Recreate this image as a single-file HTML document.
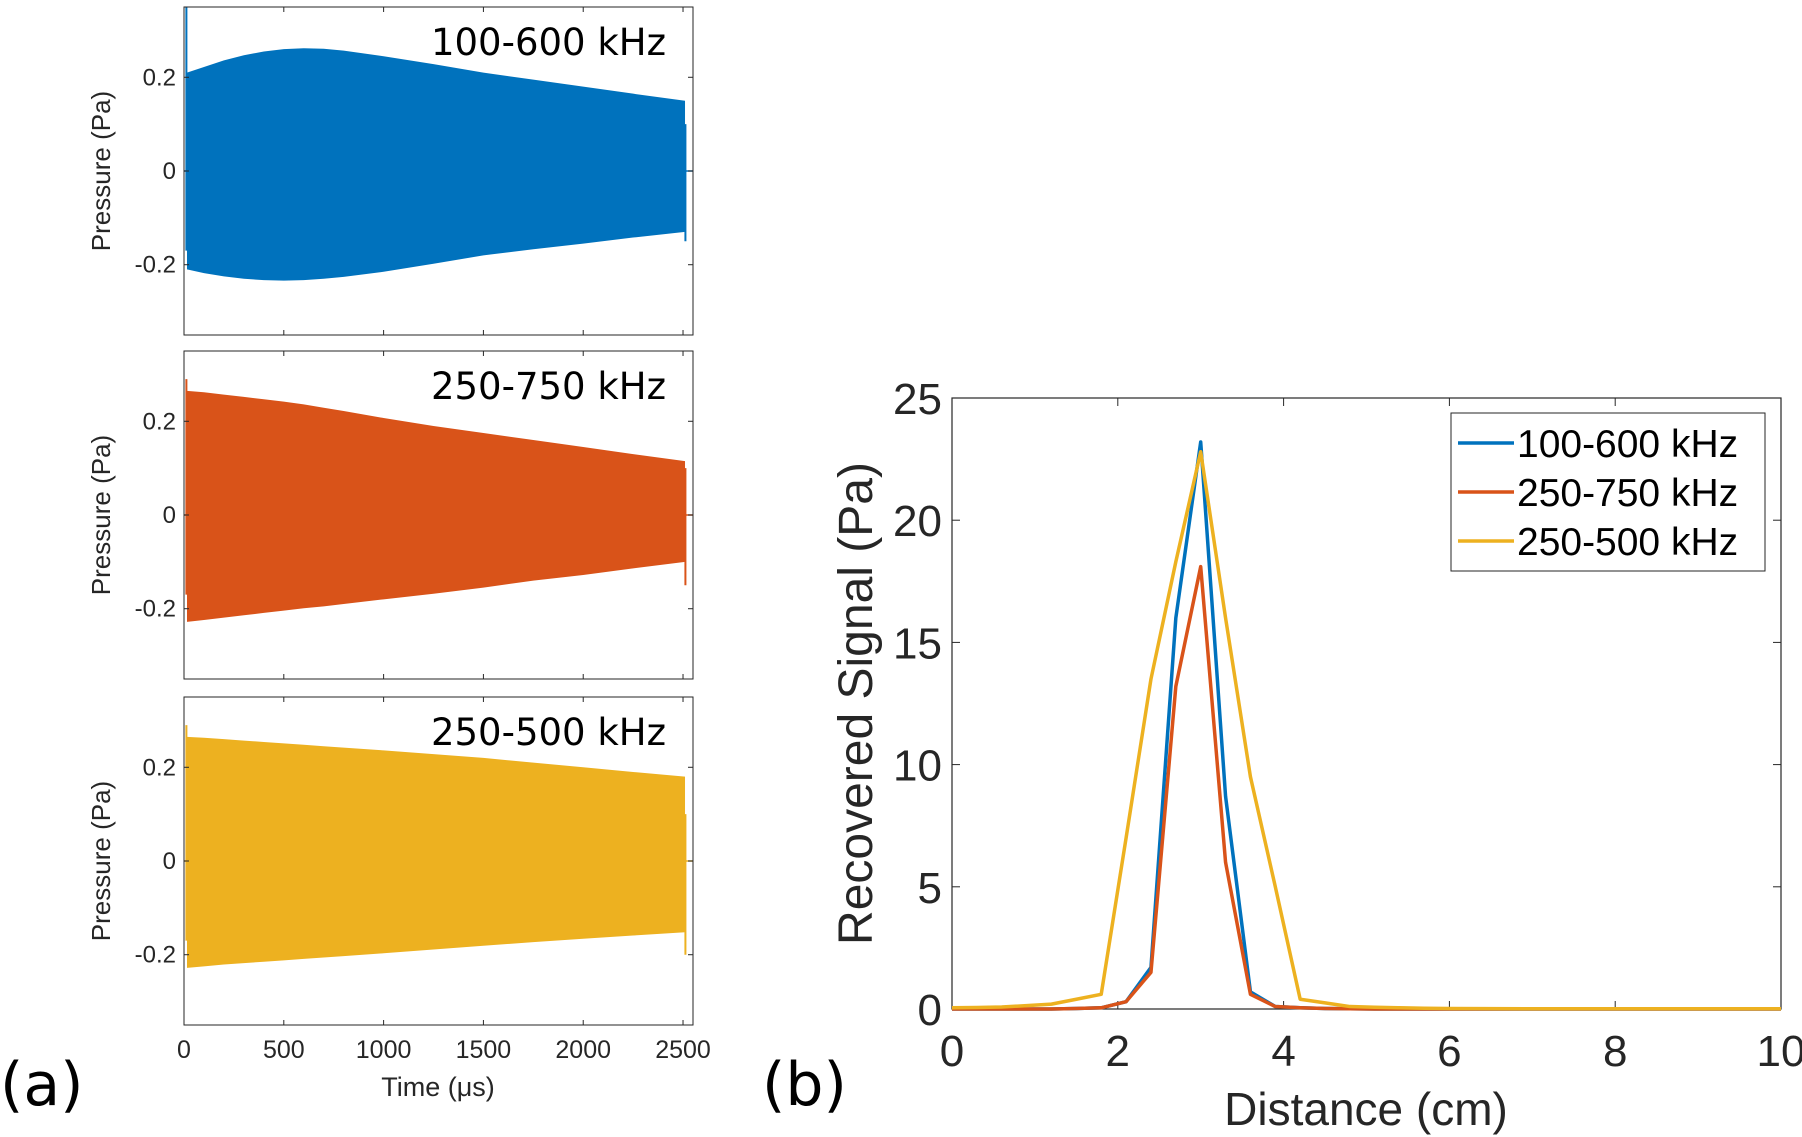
<!DOCTYPE html>
<html><head><meta charset="utf-8"><style>
html,body{margin:0;padding:0;background:#fff;}
svg{display:block;}
</style></head><body>
<svg id="fig" width="1802" height="1137" viewBox="0 0 1802 1137" xmlns="http://www.w3.org/2000/svg">
<g id="left"></g>
<g id="right"></g>
<text x="0" y="1105" font-family="'DejaVu Sans',sans-serif" font-size="60" fill="#000">(a)</text>
<text x="762" y="1105" font-family="'DejaVu Sans',sans-serif" font-size="60" fill="#000">(b)</text>
</svg>
<script>
// ---- Panel (a) data ----
const envTimes = [15, 100, 200, 300, 400, 500, 600, 700, 800, 1000, 1250, 1500, 1750, 2000, 2250, 2510];
const blueUpper = [0.21, 0.222, 0.236, 0.247, 0.255, 0.26, 0.262, 0.261, 0.257, 0.245, 0.228, 0.21, 0.195, 0.18, 0.165, 0.15];
const blueLower = [-0.21, -0.218, -0.225, -0.23, -0.233, -0.234, -0.233, -0.23, -0.226, -0.215, -0.198, -0.18, -0.167, -0.155, -0.142, -0.13];
const orangeUpper = [0.265, 0.262, 0.257, 0.252, 0.247, 0.242, 0.236, 0.229, 0.222, 0.207, 0.19, 0.175, 0.16, 0.145, 0.13, 0.115];
const orangeLower = [-0.228, -0.224, -0.219, -0.214, -0.209, -0.204, -0.199, -0.195, -0.19, -0.18, -0.168, -0.155, -0.14, -0.128, -0.114, -0.1];
const yellowUpper = [0.265, 0.263, 0.26, 0.257, 0.254, 0.251, 0.248, 0.245, 0.242, 0.236, 0.228, 0.22, 0.21, 0.2, 0.19, 0.18];
const yellowLower = [-0.228, -0.225, -0.221, -0.218, -0.215, -0.212, -0.209, -0.206, -0.203, -0.197, -0.189, -0.181, -0.173, -0.166, -0.159, -0.152];
const panelTitles = ["100-600 kHz", "250-750 kHz", "250-500 kHz"];
const timeTicks = [0, 500, 1000, 1500, 2000, 2500];
const pressTicks = [-0.2, 0, 0.2];
const pressTickLabels = ["-0.2", "0", "0.2"];
// ---- Panel (b) data ----
const distances = [0,0.3,0.6,0.9,1.2,1.5,1.8,2.1,2.4,2.7,3.0,3.3,3.6,3.9,4.2,4.5,4.8,5.1,5.4,5.7,6,7,8,9,10];
const sig100600 = [0,0,0,0,0,0.02,0.05,0.3,1.7,16,23.2,8.7,0.7,0.1,0.05,0.02,0.01,0,0,0,0,0,0,0,0];
const sig250750 = [0,0,0,0,0,0.02,0.05,0.3,1.5,13.2,18.1,6,0.6,0.1,0.05,0.02,0.01,0,0,0,0,0,0,0,0];
const sig250500 = [0.05,0.06,0.08,0.14,0.2,0.4,0.6,7,13.5,18.3,22.8,16,9.5,5,0.4,0.25,0.1,0.07,0.05,0.03,0.02,0.01,0.01,0.01,0.01];
const distTicks = [0,2,4,6,8,10];
const sigTicks = [0,5,10,15,20,25];
const legendLabels = ["100-600 kHz","250-750 kHz","250-500 kHz"];

const NS = "http://www.w3.org/2000/svg";
function mk(parent, tag, attrs){const e=document.createElementNS(NS,tag);for(const k in attrs)e.setAttribute(k,attrs[k]);parent.appendChild(e);return e;}

// Panel a
const L = document.getElementById('left');
const ax0 = 184, ax1 = 693, tMax = 2550;
const panelsY = [[7,335],[351,679],[697,1025]];
const colors = ["#0072BD","#D95319","#EDB120"];
const uppers = [blueUpper, orangeUpper, yellowUpper];
const lowers = [blueLower, orangeLower, yellowLower];
const xT = t => ax0 + (t / tMax) * (ax1 - ax0);
panelsY.forEach((py, i) => {
  const [top, bot] = py;
  const yP = p => (top + bot) / 2 - p / 0.35 * ((bot - top) / 2);
  const g = mk(L, 'g', {});
  
  
  const z = mk(g, 'line', {x1: xT(0), x2: xT(tMax), y1: yP(0), y2: yP(0), stroke: colors[i], 'stroke-width': 1.5});
  
  
  let pts = envTimes.map((t, k) => xT(t) + ',' + yP(uppers[i][k]));
  pts = pts.concat(envTimes.slice().reverse().map((t, k) => xT(t) + ',' + yP(lowers[i][envTimes.length - 1 - k])));
  const poly = mk(g, 'polygon', {points: pts.join(' '), fill: colors[i]});
  
  
  const sp = mk(g, 'line', {x1: xT(12), x2: xT(12), y1: yP(i === 0 ? 0.35 : 0.29), y2: yP(-0.17), stroke: colors[i], 'stroke-width': 2});
  
  
  const ep = mk(g, 'line', {x1: xT(2512), x2: xT(2512), y1: yP(0.1), y2: yP(i === 2 ? -0.2 : -0.15), stroke: colors[i], 'stroke-width': 2});
  
  
  const box = mk(g, 'rect', {x: ax0, y: top, width: ax1 - ax0, height: bot - top, fill: 'none', stroke: '#262626', 'stroke-width': 1});
  
  
  pressTicks.forEach((p, k) => {
    mk(g, 'line', {x1: ax0, x2: ax0 + 5, y1: yP(p), y2: yP(p), stroke: '#262626'});
    mk(g, 'line', {x1: ax1, x2: ax1 - 5, y1: yP(p), y2: yP(p), stroke: '#262626'});
    const tl = mk(g, 'text', {x: ax0 - 8, y: yP(p) + 8, 'text-anchor': 'end', 'font-family': 'Liberation Sans,sans-serif', 'font-size': 24, fill: '#262626'});
    tl.textContent = pressTickLabels[k];
    
    
  });
  timeTicks.forEach(t => {
    mk(g, 'line', {x1: xT(t), x2: xT(t), y1: bot, y2: bot - 5, stroke: '#262626'});
    mk(g, 'line', {x1: xT(t), x2: xT(t), y1: top, y2: top + 5, stroke: '#262626'});
  });
  const yl = mk(g, 'text', {x: 0, y: 0, transform: `translate(110,${(top+bot)/2}) rotate(-90)`, 'text-anchor': 'middle', 'font-family': 'Liberation Sans,sans-serif', 'font-size': 26, fill: '#262626'});
  yl.textContent = 'Pressure (Pa)';
  
  
  const tt = mk(g, 'text', {x: 666, y: top + 48, 'text-anchor': 'end', 'font-family': 'DejaVu Sans,sans-serif', 'font-size': 37, fill: '#000'});
  tt.textContent = panelTitles[i];
  
  
});
timeTicks.forEach(t => {
  const tl = mk(L, 'text', {x: xT(t), y: 1058, 'text-anchor': 'middle', 'font-family': 'Liberation Sans,sans-serif', 'font-size': 25, fill: '#262626'});
  tl.textContent = t;
  
  
});
const xt = mk(L, 'text', {x: 438, y: 1096, 'text-anchor': 'middle', 'font-family': 'Liberation Sans,sans-serif', 'font-size': 27, fill: '#262626'});
xt.textContent = 'Time (μs)';



// Panel b
const R = document.getElementById('right');
const bx0 = 952, bx1 = 1781, by0 = 398, by1 = 1009;
const xD = d => bx0 + d / 10 * (bx1 - bx0);
const yS = s => by1 - s / 25 * (by1 - by0);
const bbox = mk(R, 'rect', {x: bx0, y: by0, width: bx1 - bx0, height: by1 - by0, fill: 'none', stroke: '#262626', 'stroke-width': 1.2});


distTicks.forEach(d => {
  mk(R, 'line', {x1: xD(d), x2: xD(d), y1: by1, y2: by1 - 8, stroke: '#262626'});
  mk(R, 'line', {x1: xD(d), x2: xD(d), y1: by0, y2: by0 + 8, stroke: '#262626'});
  const tl = mk(R, 'text', {x: xD(d), y: by1 + 57, 'text-anchor': 'middle', 'font-family': 'Liberation Sans,sans-serif', 'font-size': 44, fill: '#262626'});
  tl.textContent = d;
  
  
});
sigTicks.forEach(s => {
  mk(R, 'line', {x1: bx0, x2: bx0 + 8, y1: yS(s), y2: yS(s), stroke: '#262626'});
  mk(R, 'line', {x1: bx1, x2: bx1 - 8, y1: yS(s), y2: yS(s), stroke: '#262626'});
  const tl = mk(R, 'text', {x: bx0 - 10, y: yS(s) + 16, 'text-anchor': 'end', 'font-family': 'Liberation Sans,sans-serif', 'font-size': 44, fill: '#262626'});
  tl.textContent = s;
  
  
});
const series = [sig100600, sig250750, sig250500];
series.forEach((arr, i) => {
  const pl = mk(R, 'polyline', {points: distances.map((d, k) => xD(d) + ',' + yS(arr[k])).join(' '), fill: 'none', stroke: colors[i], 'stroke-width': 3.5, 'stroke-linejoin': 'round'});
  
  
});
const lg = mk(R, 'g', {});


mk(lg, 'rect', {x: 1451, y: 413, width: 314, height: 158, fill: '#fff', stroke: '#262626', 'stroke-width': 1});
legendLabels.forEach((lab, i) => {
  const y = 443 + i * 49;
  mk(lg, 'line', {x1: 1458, x2: 1514, y1: y, y2: y, stroke: colors[i], 'stroke-width': 3.5});
  const t = mk(lg, 'text', {x: 1517, y: y + 14, 'font-family': 'Liberation Sans,sans-serif', 'font-size': 39, fill: '#000'});
  t.textContent = lab;
  
  
});
const bxl = mk(R, 'text', {x: 1366, y: 1125, 'text-anchor': 'middle', 'font-family': 'Liberation Sans,sans-serif', 'font-size': 46, fill: '#262626'});
bxl.textContent = 'Distance (cm)';


const byl = mk(R, 'text', {x: 0, y: 0, transform: `translate(872,${(by0+by1)/2}) rotate(-90)`, 'text-anchor': 'middle', 'font-family': 'Liberation Sans,sans-serif', 'font-size': 48, fill: '#262626'});
byl.textContent = 'Recovered Signal (Pa)';


</script>
</body></html>
